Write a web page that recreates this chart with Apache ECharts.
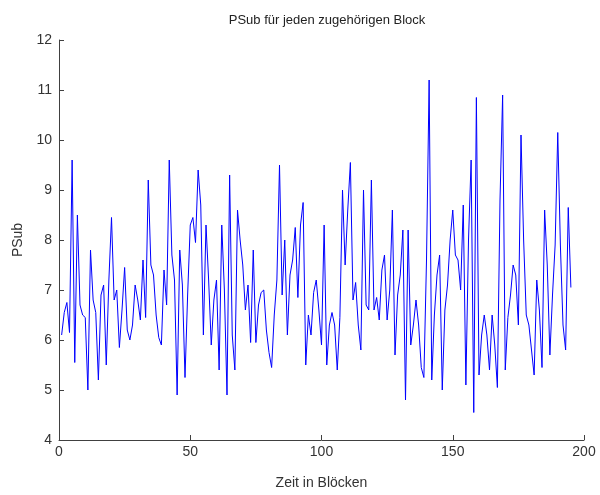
<!DOCTYPE html>
<html>
<head>
<meta charset="utf-8">
<script src="https://cdn.jsdelivr.net/npm/echarts@6/dist/echarts.min.js"></script>
<style>
  html, body { margin: 0; padding: 0; background: #fff; }
  #chart { width: 600px; height: 495px; }
</style>
</head>
<body>
<div id="chart"></div>
<script>
// PSub per block, one value per block (block numbers start at 1)
const psub = [
  6.1, 6.55, 6.75, 6.15, 9.6, 5.55, 8.5, 6.7, 6.5, 6.45,
  5.0, 7.8, 6.8, 6.55, 5.2, 6.9, 7.1, 5.5, 7.2, 8.45,
  6.8, 7.0, 5.85, 6.6, 7.45, 6.2, 6.0, 6.3, 7.1, 6.8,
  6.4, 7.6, 6.45, 9.2, 7.5, 7.3, 6.5, 6.05, 5.9, 7.4,
  6.7, 9.6, 7.7, 7.2, 4.9, 7.8, 7.1, 5.25, 6.9, 8.3,
  8.45, 7.95, 9.4, 8.7, 6.1, 8.3, 7.2, 5.9, 6.8, 7.2,
  5.4, 8.3, 7.0, 4.9, 9.3, 6.1, 5.4, 8.6, 8.0, 7.5,
  6.6, 7.1, 5.95, 7.8, 5.95, 6.7, 6.95, 7.0, 6.2, 5.75,
  5.45, 6.5, 7.2, 9.5, 6.9, 8.0, 6.1, 7.3, 7.6, 8.25,
  6.85, 8.3, 8.75, 5.5, 6.5, 6.1, 6.95, 7.2, 6.6, 5.9,
  8.3, 5.5, 6.3, 6.55, 6.3, 5.4, 6.45, 9.0, 7.5, 8.6,
  9.55, 6.8, 7.15, 6.3, 5.8, 9.0, 6.7, 6.6, 9.2, 6.6,
  6.85, 6.4, 7.4, 7.7, 6.4, 7.0, 8.6, 5.7, 6.9, 7.3,
  8.2, 4.8, 8.2, 5.9, 6.3, 6.8, 6.3, 5.45, 5.25, 7.6,
  11.2, 5.2, 6.5, 7.3, 7.7, 5.0, 6.6, 7.1, 8.0, 8.6,
  7.7, 7.6, 7.0, 8.7, 5.1, 8.0, 9.6, 4.55, 10.85, 5.3,
  6.1, 6.5, 6.1, 5.4, 6.5, 5.9, 5.05, 8.8, 10.9, 5.4,
  6.45, 6.9, 7.5, 7.3, 6.3, 10.1, 8.0, 6.5, 6.3, 5.8,
  5.3, 7.2, 6.6, 5.45, 8.6, 7.5, 5.7, 6.9, 7.9, 10.15,
  7.9, 6.3, 5.8, 8.65, 7.05
];

const titleText = 'PSub für jeden zugehörigen Block';
const xName = 'Zeit in Blöcken';
const yName = 'PSub';
const xTicks = [0, 50, 100, 150, 200];
const yTicks = [4, 5, 6, 7, 8, 9, 10, 11, 12];

const axisColor = '#404040';
const font = 'Liberation Sans, Arial, sans-serif';

const seriesData = psub.map((v, i) => [i + 1, v]);

const chart = echarts.init(document.getElementById('chart'), null, { renderer: 'canvas' });
chart.setOption({
  animation: false,
  backgroundColor: '#ffffff',
  title: {
    text: titleText,
    left: 322,
    top: 9,
    textAlign: 'center',
    textStyle: { fontFamily: font, fontSize: 13, fontWeight: 'normal', color: '#222' }
  },
  grid: { left: 59, right: 16, top: 40, bottom: 40, containLabel: false },
  xAxis: {
    type: 'value',
    min: xTicks[0],
    max: xTicks[xTicks.length - 1],
    interval: 50,
    name: xName,
    nameLocation: 'middle',
    nameGap: 36,
    nameTextStyle: { fontFamily: font, fontSize: 14, color: '#333' },
    axisLine: { show: true, lineStyle: { color: axisColor, width: 1 } },
    axisTick: { show: true, inside: true, length: 5, lineStyle: { color: axisColor } },
    axisLabel: { fontFamily: font, fontSize: 14, color: '#333', margin: 5 },
    splitLine: { show: false }
  },
  yAxis: {
    type: 'value',
    min: yTicks[0],
    max: yTicks[yTicks.length - 1],
    interval: 1,
    name: yName,
    nameLocation: 'middle',
    nameGap: 34,
    nameRotate: 90,
    nameTextStyle: { fontFamily: font, fontSize: 14, color: '#333' },
    axisLine: { show: true, lineStyle: { color: axisColor, width: 1 } },
    axisTick: { show: true, inside: true, length: 5, lineStyle: { color: axisColor } },
    axisLabel: { fontFamily: font, fontSize: 14, color: '#333', margin: 7 },
    splitLine: { show: false }
  },
  series: [{
    type: 'line',
    data: seriesData,
    showSymbol: false,
    symbol: 'none',
    lineStyle: { color: '#0000ff', width: 1 },
    itemStyle: { color: '#0000ff' }
  }]
});
</script>
</body>
</html>
